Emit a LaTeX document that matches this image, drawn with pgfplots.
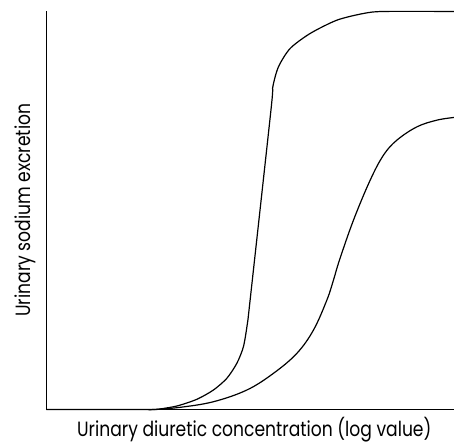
\documentclass[border=0pt]{standalone}
\usepackage{fontspec}
\setmainfont{Poppins}
\usepackage{pgfplots}
\pgfplotsset{compat=1.18}
\begin{document}
\begin{tikzpicture}
\begin{axis}[
  scale only axis,
  width=306pt, height=299pt,
  xmin=46.3, xmax=454, ymin=0, ymax=398.8,
  axis x line=bottom, axis y line=left,
  axis line style={-, line width=0.9pt},
  xtick=\empty, ytick=\empty,
  xlabel={\scalebox{0.83}[1]{Urinary diuretic concentration (log value)}},
  ylabel={\scalebox{0.83}[1]{Urinary sodium excretion}},
  label style={font=\fontsize{15.5}{17}\selectfont},
  xlabel style={at={(axis description cs:0.5,0)}, anchor=base, yshift=-20.4pt, xshift=3pt},
  ylabel style={at={(axis description cs:0,0.5)}, anchor=base, yshift=11.5pt},
  clip=false,
]
\addplot[black, line width=0.9pt, smooth, tension=0.45] coordinates {
(46.3,0) (150,0) (156.7,0.1) (176.7,3.5) (196.7,10.2) (213.3,19.5) (226.7,31.2) (236.7,46.2)
(243.3,62.8) (247.3,86.2) (250,109.5) (271,301.2) (272.7,322.8) (278.3,342.8) (290,361.2)
(310,376.2) (336.7,389.5) (363.3,396.2) (383.3,398.2) (454,398.2)
};
\addplot[black, line width=0.9pt, smooth, tension=0.6] coordinates {
(150,0) (153.3,0) (180,2.2) (213.3,7.8) (246.7,19.5) (273.3,36.2) (296.7,56.2) (313.3,79.5)
(326.7,109.5) (333.3,129.5) (339.3,149.5) (353.3,189.5) (370,229.5) (383.3,254.5) (396.7,269.5)
(416.7,282.8) (436.7,289.5) (454,292.2)
};
\end{axis}
\pgfresetboundingbox
\useasboundingbox (current axis.south west) ++(-34.7pt,-25.1pt) rectangle ++(340.5pt,332.25pt);
\end{tikzpicture}
\end{document}
